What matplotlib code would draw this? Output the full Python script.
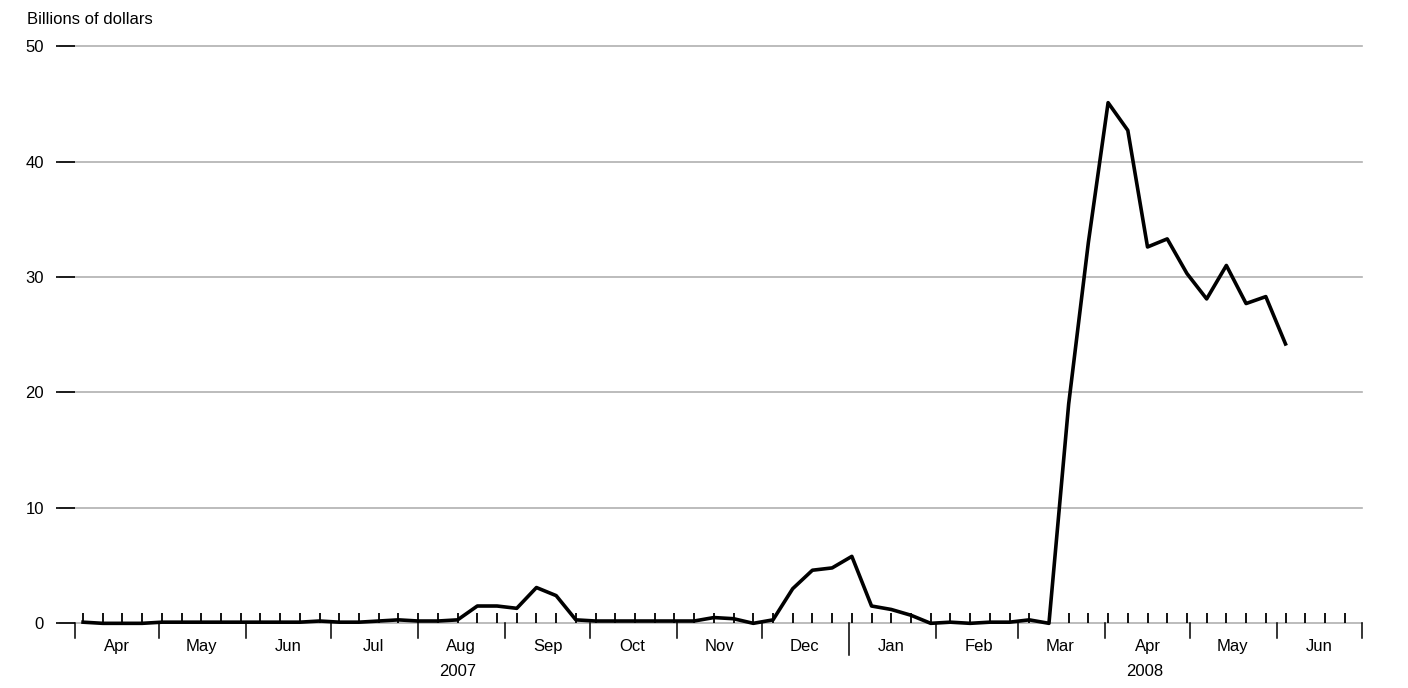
import matplotlib
matplotlib.use("Agg")
import matplotlib.pyplot as plt
import numpy as np
import pandas as pd

dates = pd.date_range("2007-04-04", periods=62, freq="7D")
values = [0.1, 0.0, 0.0, 0.0, 0.1, 0.1, 0.1, 0.1, 0.1, 0.1, 0.1, 0.1, 0.2, 0.1, 0.1, 0.2, 0.3, 0.2, 0.2,
          0.3, 1.5, 1.5, 1.3, 3.1, 2.4, 0.3, 0.2, 0.2, 0.2, 0.2, 0.2, 0.2,
          0.5, 0.4, 0.0, 0.3, 3.0, 4.6, 4.8, 5.8, 1.5, 1.2, 0.7, 0.0, 0.1, 0.0, 0.1, 0.1, 0.3, 0.0,
          19.0, 33.0, 45.1, 42.7, 32.6, 33.3, 30.3, 28.1, 31.0, 27.7, 28.3, 24.2]
yticks = [0, 10, 20, 30, 40, 50]

plt.rcParams['font.family'] = ['Liberation Sans', 'DejaVu Sans']
fig = plt.figure(figsize=(14.08, 6.88), dpi=100)
ax = fig.add_axes([0.053, 0.094, 0.914, 0.839])
xmin, xmax = pd.Timestamp("2007-04-01"), pd.Timestamp("2008-07-01")
ax.set_xlim(xmin, xmax)
ax.set_ylim(0, 50)
for y in yticks:
    ax.axhline(y, color="#b0b0b0", lw=1.2, zorder=0, xmin=-0.011, clip_on=False)
ax.plot(dates, values, color="black", lw=2.6, zorder=3, clip_on=False)
for s in ax.spines.values():
    s.set_visible(False)
ax.set_yticks(yticks)
ax.tick_params(axis="y", length=14, width=1.2, pad=8, labelsize=12, left=True)
ax.set_yticklabels([str(v) for v in yticks])
week_ticks = pd.date_range("2007-04-04", "2008-06-30", freq="7D")
ax.set_xticks(week_ticks)
ax.tick_params(axis="x", which="major", direction="in", length=7, width=1.3, labelbottom=False)
months = pd.date_range("2007-04-01", "2008-07-01", freq="MS")
trans = ax.get_xaxis_transform()
for m in months:
    L = 0.055 if m == pd.Timestamp("2008-01-01") else 0.025
    ax.plot([m, m], [0, -L], transform=trans, color="black", lw=1.1, clip_on=False)
for m in months[:-1]:
    mid = m + pd.Timedelta(days=15)
    ax.text(mid, -0.027, m.strftime("%b"), transform=trans, ha="center", va="top", fontsize=12)
ax.text(pd.Timestamp("2007-08-15"), -0.07, "2007", transform=trans, ha="center", va="top", fontsize=12)
ax.text(pd.Timestamp("2008-04-15"), -0.07, "2008", transform=trans, ha="center", va="top", fontsize=12)
fig.text(0.019, 0.972, "Billions of dollars", fontsize=12, va="center")
fig.savefig("out.png")
